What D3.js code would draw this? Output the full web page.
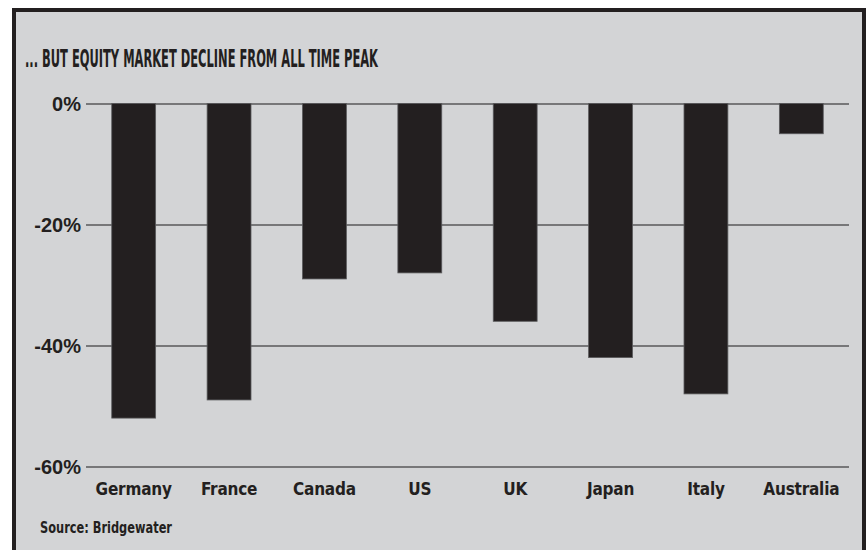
<!DOCTYPE html>
<html>
<head>
<meta charset="utf-8">
<script src="https://cdn.jsdelivr.net/npm/d3@7"></script>
<style>
  body { margin: 0; background: #fff; }
  svg { display: block; }
</style>
</head>
<body>
<svg id="chart"></svg>
<script>
// data
var countries = ["Germany", "France", "Canada", "US", "UK", "Japan", "Italy", "Australia"];
var declines = [-52, -49, -29, -28, -36, -42, -48, -5];
var yTicks = [0, -20, -40, -60];
var titleText = "... BUT EQUITY MARKET DECLINE FROM ALL TIME PEAK";
var sourceText = "Source: Bridgewater";

const width = 866;
const height = 550;
const ink = "#231f20";
const narrow = "'Liberation Sans Narrow', 'DejaVu Sans Condensed', 'Arial Narrow', sans-serif";

var svg = d3.select('#chart')
  .attr('width', width)
  .attr('height', height);

// panel with dark frame (bottom runs off the picture)
svg.append('rect')
  .attr('x', 14).attr('y', 10)
  .attr('width', 850).attr('height', 560)
  .attr('fill', '#d3d4d6')
  .attr('stroke', ink)
  .attr('stroke-width', 4);

var x = d3.scaleBand()
  .domain(countries)
  .range([86, 849])
  .paddingInner(0.54)
  .paddingOuter(0.27);

var y = d3.scaleLinear()
  .domain([0, -60])
  .range([103.5, 466.5]);

// gridlines + tick labels
var yAxis = d3.axisLeft(y)
  .tickValues(yTicks)
  .tickSize(-(849 - 86))
  .tickPadding(6)
  .tickFormat(d => d + "%");

var gy = svg.append('g')
  .attr('transform', 'translate(86,0)')
  .call(yAxis);
gy.select('.domain').remove();
gy.selectAll('.tick line')
  .attr('stroke', '#58585a')
  .attr('stroke-width', 1.6);
gy.selectAll('.tick text')
  .attr('fill', ink)
  .attr('x', -5)
  .attr('dy', '0.35em')
  .style('font-family', "'Liberation Sans', Arial, sans-serif")
  .style('font-weight', 'bold')
  .style('font-size', '20px');

// bars hang down from 0
svg.append('g').selectAll('rect')
  .data(declines)
  .enter().append('rect')
    .attr('x', (d, i) => x(countries[i]))
    .attr('y', y(0))
    .attr('width', x.bandwidth())
    .attr('height', d => y(d) - y(0))
    .attr('fill', ink)
    .attr('stroke', '#5a5a5c')
    .attr('stroke-width', 0.8);

// category labels under the -60% line
var xAxis = d3.axisBottom(x).tickSize(0).tickPadding(0);
var gx = svg.append('g')
  .attr('transform', 'translate(0,495)')
  .call(xAxis);
gx.select('.domain').remove();
gx.selectAll('.tick text')
  .attr('fill', ink)
  .attr('dy', 0)
  .attr('y', 0)
  .style('font-family', narrow)
  .style('font-weight', 'bold')
  .style('font-size', '17px')
  .style('letter-spacing', '-0.2px');

// title
svg.append('text')
  .attr('x', 25)
  .attr('y', 66.5)
  .attr('fill', ink)
  .attr('textLength', 353)
  .attr('lengthAdjust', 'spacingAndGlyphs')
  .style('font-family', narrow)
  .style('font-weight', 'bold')
  .style('font-size', '24px')
  .text(titleText);

// source note
svg.append('text')
  .attr('x', 40)
  .attr('y', 533)
  .attr('fill', ink)
  .attr('textLength', 132)
  .attr('lengthAdjust', 'spacingAndGlyphs')
  .style('font-family', narrow)
  .style('font-weight', 'bold')
  .style('font-size', '15px')
  .text(sourceText);
</script>
</body>
</html>
